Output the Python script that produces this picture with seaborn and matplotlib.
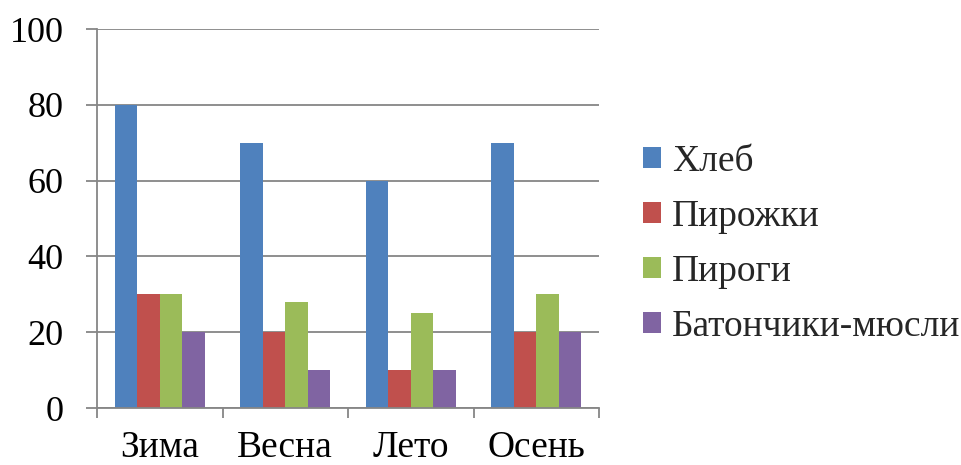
import matplotlib
matplotlib.use("Agg")
import matplotlib.pyplot as plt
from matplotlib.patches import Patch
import seaborn as sns
import pandas as pd
import numpy as np

seasons = ["Зима", "Весна", "Лето", "Осень"]
products = ["Хлеб", "Пирожки", "Пироги", "Батончики-мюсли"]
bread = [80, 70, 60, 70]
patties = [30, 20, 10, 20]
pies = [30, 28, 25, 30]
muesli_bars = [20, 10, 10, 20]
colors = ["#4F81BD", "#C0504D", "#9BBB59", "#8064A2"]
y_ticks = [0, 20, 40, 60, 80, 100]

rows = []
for name, vals in zip(products, [bread, patties, pies, muesli_bars]):
    for s, v in zip(seasons, vals):
        rows.append({"season": s, "product": name, "value": v})
df = pd.DataFrame(rows)

sns.set_theme(style="white")
plt.rcParams["font.family"] = ["Liberation Serif", "DejaVu Serif"]

fig = plt.figure(figsize=(9.61, 4.65), dpi=100)
ax = fig.add_axes([97 / 961, 1 - 408 / 465, (599 - 97) / 961, (408 - 29) / 465])

grid_c = "#868686"
sns.barplot(data=df, x="season", y="value", hue="product", order=seasons,
            hue_order=products, palette=colors, width=0.72, saturation=1,
            linewidth=0, ax=ax, legend=False)

ax.set_xlim(-0.5, len(seasons) - 0.5)
ax.set_ylim(0, 100)
ax.set_yticks(y_ticks)
ax.set_yticklabels([str(t) for t in y_ticks])
ax.yaxis.grid(True, color=grid_c, linewidth=1.3)
ax.set_axisbelow(True)

# category boundaries carry the tick marks; labels sit on the centres
ax.set_xticks(np.arange(len(seasons) + 1) - 0.5)
ax.set_xticklabels([""] * (len(seasons) + 1))
ax.set_xticks(np.arange(len(seasons)), minor=True)
ax.set_xticklabels(seasons, minor=True)
ax.tick_params(axis="x", which="major", length=7.2, width=1.3, color=grid_c,
               direction="out", bottom=True)
ax.tick_params(axis="x", which="minor", length=0, pad=16, labelsize=27,
               labelcolor="black", bottom=True)
ax.tick_params(axis="y", length=8, width=1.3, color=grid_c, direction="out",
               left=True, pad=16, labelsize=26, labelcolor="black")

ax.set_xlabel("")
ax.set_ylabel("")
for side in ["top", "right"]:
    ax.spines[side].set_visible(False)
for side in ["left", "bottom"]:
    ax.spines[side].set_color(grid_c)
    ax.spines[side].set_linewidth(1.3)

handles = [Patch(facecolor=c, edgecolor="none") for c in colors]
fig.legend(handles, products, loc="center left",
           bbox_to_anchor=(643 / 961, 1 - 244 / 465), frameon=False,
           fontsize=27, handlelength=0.48, handleheight=0.48,
           handletextpad=0.3, labelspacing=0.55, borderaxespad=0,
           borderpad=0)

fig.savefig("out.png", dpi=100)
